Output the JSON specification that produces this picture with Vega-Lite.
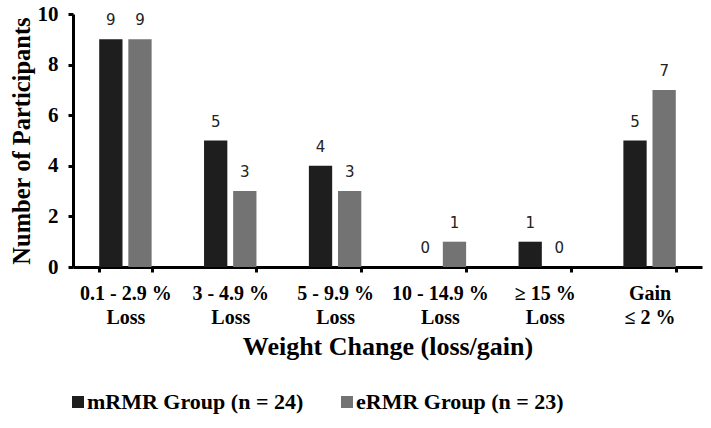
{
  "$schema": "https://vega.github.io/schema/vega-lite/v6.json",
  "autosize": {"type": "none"},
  "width": 629,
  "height": 253,
  "padding": {"left": 73, "top": 14, "right": 9, "bottom": 161},
  "background": "white",
  "data": {
    "values": [
      {"cat": "0.1 - 2.9 %|Loss", "group": "mRMR Group (n = 24)", "value": 9},
      {"cat": "0.1 - 2.9 %|Loss", "group": "eRMR Group (n = 23)", "value": 9},
      {"cat": "3 - 4.9 %|Loss", "group": "mRMR Group (n = 24)", "value": 5},
      {"cat": "3 - 4.9 %|Loss", "group": "eRMR Group (n = 23)", "value": 3},
      {"cat": "5 - 9.9 %|Loss", "group": "mRMR Group (n = 24)", "value": 4},
      {"cat": "5 - 9.9 %|Loss", "group": "eRMR Group (n = 23)", "value": 3},
      {"cat": "10 - 14.9 %|Loss", "group": "mRMR Group (n = 24)", "value": 0},
      {"cat": "10 - 14.9 %|Loss", "group": "eRMR Group (n = 23)", "value": 1},
      {"cat": "≥ 15 %|Loss", "group": "mRMR Group (n = 24)", "value": 1},
      {"cat": "≥ 15 %|Loss", "group": "eRMR Group (n = 23)", "value": 0},
      {"cat": "Gain|≤ 2 %", "group": "mRMR Group (n = 24)", "value": 5},
      {"cat": "Gain|≤ 2 %", "group": "eRMR Group (n = 23)", "value": 7}
    ]
  },
  "encoding": {
    "x": {
      "field": "cat", "type": "nominal", "sort": null,
      "scale": {"paddingInner": 0.5, "paddingOuter": 0.25},
      "axis": {
        "title": "Weight Change (loss/gain)",
        "labelExpr": "split(datum.label, '|')",
        "labelAngle": 0,
        "labelFont": "Liberation Serif", "labelFontWeight": "bold", "labelFontSize": 20,
        "labelColor": "black", "labelLineHeight": 24, "labelPadding": 11,
        "tickBand": "extent", "tickSize": 5, "tickWidth": 3, "tickColor": "black",
        "domainWidth": 3, "domainColor": "black",
        "titleFont": "Liberation Serif", "titleFontWeight": "bold", "titleFontSize": 26,
        "titleColor": "black", "titlePadding": 6
      }
    },
    "xOffset": {"field": "group", "type": "nominal", "sort": ["mRMR Group (n = 24)", "eRMR Group (n = 23)"], "scale": {"paddingInner": 0.2, "paddingOuter": 0}},
    "y": {
      "field": "value", "type": "quantitative",
      "scale": {"domain": [0, 10], "nice": false},
      "axis": {
        "title": "Number of Participants",
        "values": [0, 2, 4, 6, 8, 10], "grid": false,
        "labelFont": "Liberation Serif", "labelFontWeight": "bold", "labelFontSize": 21,
        "labelColor": "black", "labelPadding": 10,
        "tickSize": 5, "tickWidth": 3, "tickColor": "black",
        "domainWidth": 3, "domainColor": "black",
        "titleFont": "Liberation Serif", "titleFontWeight": "bold", "titleFontSize": 24.5,
        "titleColor": "black", "titlePadding": 3
      }
    }
  },
  "layer": [
    {
      "mark": {"type": "bar"},
      "encoding": {
        "color": {
          "field": "group", "type": "nominal",
          "sort": ["mRMR Group (n = 24)", "eRMR Group (n = 23)"],
          "scale": {"domain": ["mRMR Group (n = 24)", "eRMR Group (n = 23)"], "range": ["#1e1e1e", "#737373"]},
          "legend": {
            "title": null, "orient": "none", "direction": "horizontal",
            "legendX": -6, "legendY": 377,
            "symbolType": "square", "symbolSize": 144, "symbolStrokeWidth": 0,
            "labelFont": "Liberation Serif", "labelFontWeight": "bold", "labelFontSize": 22,
            "labelColor": "black", "columnPadding": 32, "labelOffset": -2, "labelLimit": 400
          }
        }
      }
    },
    {
      "mark": {"type": "text", "dy": -14, "baseline": "alphabetic", "font": "DejaVu Sans", "fontSize": 15, "color": "#222"},
      "encoding": {"text": {"field": "value", "type": "quantitative"}}
    }
  ],
  "config": {"view": {"stroke": null}}
}
